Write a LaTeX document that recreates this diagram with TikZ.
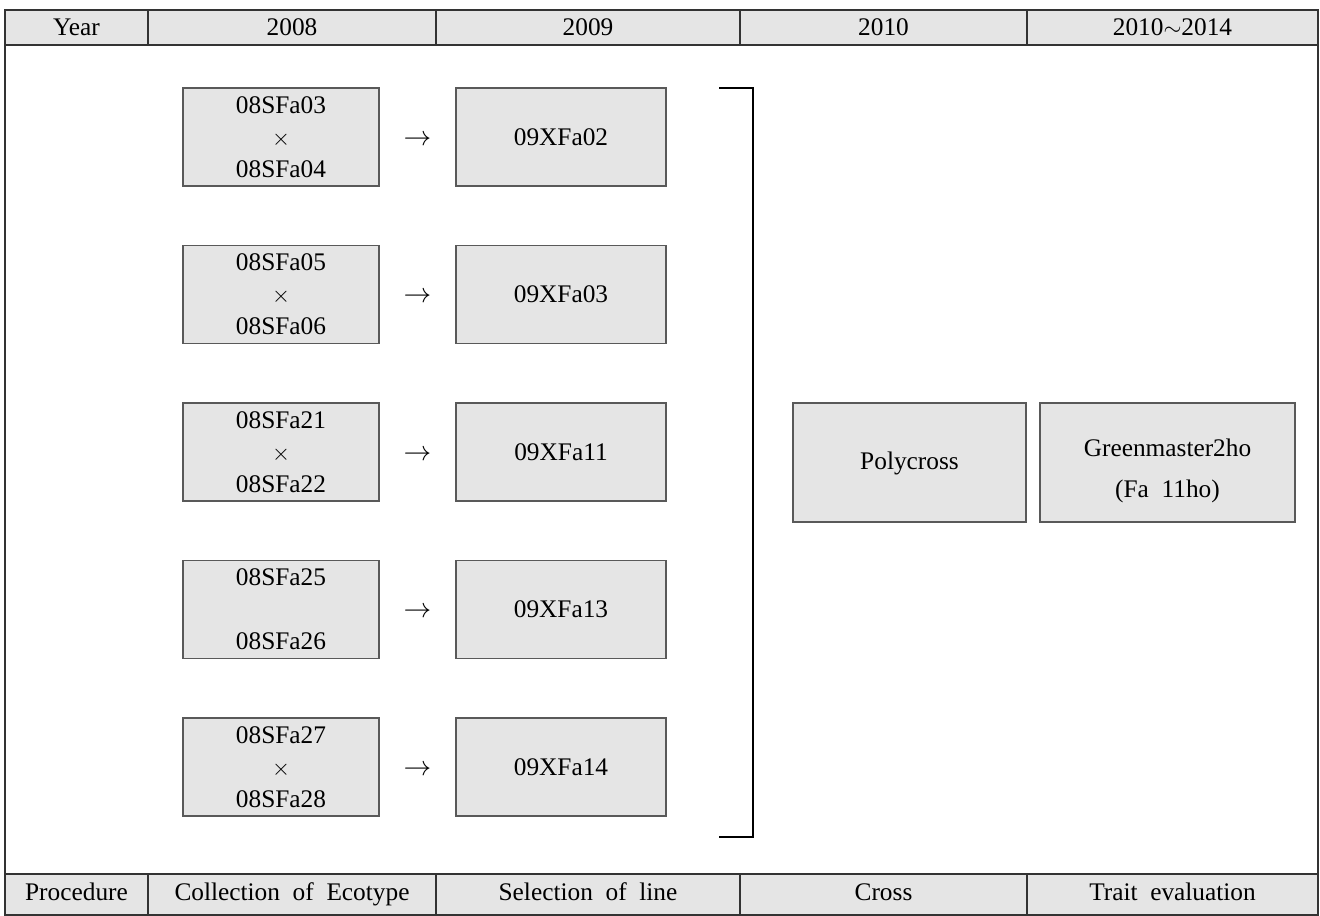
\documentclass[tikz,border=0pt]{standalone}
\usepackage{fontspec}
\setmainfont{Liberation Serif}
\begin{document}
\begin{tikzpicture}[x=0.75pt,y=-0.75pt,
  frame/.style={draw=black!80,line width=1pt},
  hdr/.style={fill=black!10},
  cell/.style={font=\fontsize{19}{24}\selectfont,anchor=base},
  box/.style={draw=black!65,fill=black!10,line width=0.8pt,font=\fontsize{19}{24}\selectfont,align=center,inner sep=0pt},
  lbox/.style={box,minimum width=147pt,minimum height=73.5pt},
  mbox/.style={box,minimum width=157.5pt,minimum height=73.5pt},
  arr/.style={font=\fontsize{22}{24}\selectfont},
  txt/.style={font=\fontsize{19}{24}\selectfont,align=center,inner sep=0pt},
  brk/.style={draw=black,line width=1pt}]
\useasboundingbox (0,0) rectangle (1320,915);
% header and footer rows
\fill[hdr] (5,10) rectangle (1318,45);
\fill[hdr] (5,874) rectangle (1318,915);
\draw[frame] (5,10) rectangle (1318,915);
\draw[frame] (5,45) -- (1318,45);
\draw[frame] (5,874) -- (1318,874);
\foreach \x in {148,436,740,1027}{
  \draw[frame] (\x,10) -- (\x,45);
  \draw[frame] (\x,874) -- (\x,915);
}
\node[cell] (hy) at (76.5,35) {Year};
\node[cell] (h1) at (292,35) {2008};
\node[cell] (h2) at (588,35) {2009};
\node[cell] (h3) at (883.5,35) {2010};
\node[cell] (h4) at (1172.5,35) {2010$\sim$2014};
\node[cell] (fy) at (76.5,900) {Procedure};
\node[cell] (f1) at (292,900) {Collection\ \ of\ \ Ecotype};
\node[cell] (f2) at (588,900) {Selection\ \ of\ \ line};
\node[cell] (f3) at (883.5,900) {Cross};
\node[cell] (f4) at (1172.5,900) {Trait\ \ evaluation};
% boxes
\node[lbox] (a1) at (281,137) {08SFa03\\$\times$\\08SFa04};
\node[lbox] (a2) at (281,294.5) {08SFa05\\$\times$\\08SFa06};
\node[lbox] (a3) at (281,452) {08SFa21\\$\times$\\08SFa22};
\node[lbox] (a4) at (281,609.5) {08SFa25\\\phantom{$\times$}\\08SFa26};
\node[lbox] (a5) at (281,767) {08SFa27\\$\times$\\08SFa28};
\node[mbox] (b1) at (561,137) {09XFa02};
\node[mbox] (b2) at (561,294.5) {09XFa03};
\node[mbox] (b3) at (561,452) {09XFa11};
\node[mbox] (b4) at (561,609.5) {09XFa13};
\node[mbox] (b5) at (561,767) {09XFa14};
\foreach \i in {1,...,5}{
  \path (a\i.east) -- node[arr,pos=0.5,yshift=-2.5pt] (r\i) {$\rightarrow$} (b\i.west);
}
% bracket
\coordinate (k1) at (719,88);
\coordinate (k2) at (753,88);
\coordinate (k3) at (753,837);
\coordinate (k4) at (719,837);
\draw[brk] (k1) -- (k2) -- (k3) -- (k4);
% right boxes
\node[box,minimum width=174.75pt,minimum height=89.25pt] (p) at (909.5,462.5) {};
\node[txt] (pt) at (909.5,463.5) {Polycross};
\node[box,minimum width=191.25pt,minimum height=89.25pt] (g) at (1167.5,462.5) {};
\node[txt] (gt) at (1167.5,471) {Greenmaster2ho\\[7pt](Fa\ \ 11ho)};
\end{tikzpicture}
\end{document}
